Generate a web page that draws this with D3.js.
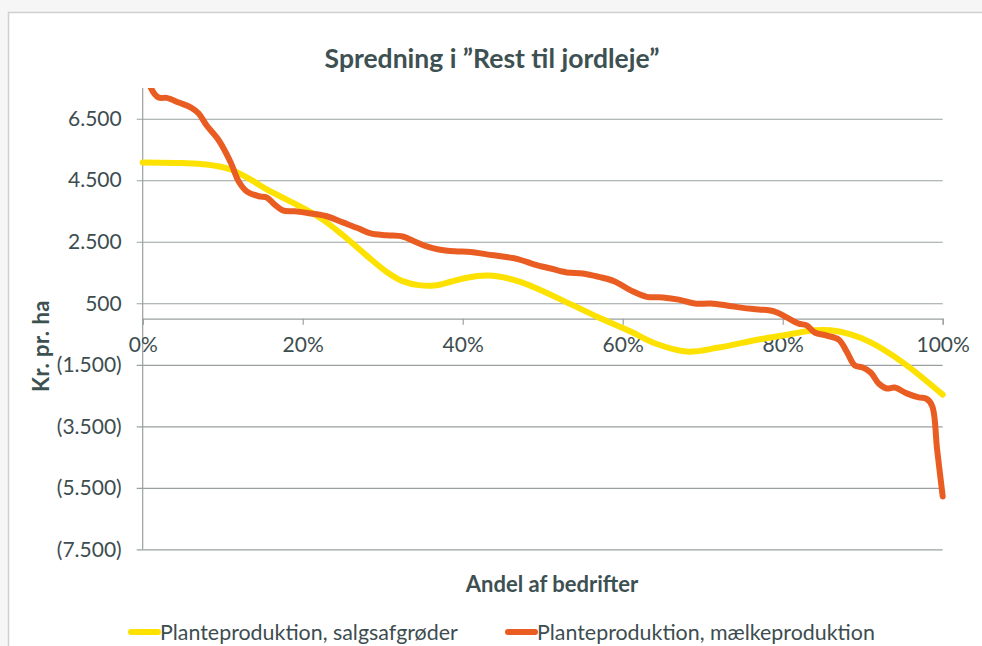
<!DOCTYPE html>
<html><head><meta charset="utf-8">
<script src="https://cdn.jsdelivr.net/npm/d3@7"></script>
<style>
html,body{margin:0;padding:0;background:#f6f6f6;}
svg{display:block;}
</style></head>
<body>
<svg id="chart" width="982" height="646"></svg>
<script>
const title = "Spredning i \u201dRest til jordleje\u201d";
const yTitle = "Kr. pr. ha";
const xTitle = "Andel af bedrifter";
const seriesNames = ["Planteproduktion, salgsafgrøder", "Planteproduktion, mælkeproduktion"];
const seriesColors = ["#fde100", "#ea5d22"];
const yTickValues = [-7500, -5500, -3500, -1500, 500, 2500, 4500, 6500];
const xTickValues = [0, 0.2, 0.4, 0.6, 0.8, 1.0];

const salgPct = [0, 0.05, 0.08, 0.11, 0.135, 0.155, 0.18, 0.20, 0.225, 0.25, 0.28, 0.305, 0.325, 0.345, 0.365, 0.385, 0.405, 0.43, 0.445, 0.47, 0.49, 0.53, 0.57, 0.61, 0.64, 0.68, 0.72, 0.77, 0.80, 0.84, 0.86, 0.885, 0.91, 0.95, 1.00];
const salgVal = [5080, 5060, 5010, 4850, 4520, 4200, 3870, 3600, 3220, 2720, 2050, 1520, 1220, 1090, 1080, 1200, 1330, 1400, 1370, 1210, 1010, 530, 40, -420, -800, -1070, -940, -680, -550, -380, -380, -510, -770, -1420, -2470];

const maelkPct = [0, 0.01, 0.02, 0.03, 0.045, 0.06, 0.07, 0.08, 0.095, 0.11, 0.12, 0.13, 0.145, 0.155, 0.165, 0.175, 0.19, 0.21, 0.23, 0.25, 0.27, 0.285, 0.305, 0.325, 0.34, 0.355, 0.37, 0.39, 0.41, 0.43, 0.45, 0.47, 0.49, 0.51, 0.53, 0.55, 0.57, 0.59, 0.61, 0.63, 0.65, 0.67, 0.69, 0.71, 0.73, 0.75, 0.77, 0.79, 0.805, 0.82, 0.83, 0.84, 0.855, 0.87, 0.88, 0.89, 0.90, 0.91, 0.92, 0.93, 0.94, 0.955, 0.97, 0.98, 0.987, 0.993, 1.00];
const maelkVal = [8800, 7520, 7190, 7180, 7030, 6870, 6670, 6280, 5800, 5080, 4460, 4140, 3980, 3940, 3710, 3520, 3490, 3420, 3330, 3130, 2930, 2770, 2710, 2670, 2510, 2350, 2250, 2190, 2170, 2090, 2020, 1930, 1760, 1630, 1500, 1470, 1360, 1210, 920, 710, 690, 620, 490, 490, 430, 350, 300, 230, 40, -160, -220, -450, -550, -680, -1070, -1520, -1590, -1750, -2110, -2270, -2240, -2430, -2560, -2610, -2850, -4250, -5780];

const svg = d3.select("#chart");
const fontFam = "Lato, 'Open Sans', sans-serif";
const textCol = "#3d4d4f";
const titleCol = "#3d5052";

// chart frame
svg.append("rect").attr("x", 8.5).attr("y", 12.5).attr("width", 990).attr("height", 660)
  .attr("fill", "#fff").attr("stroke", "#cfcfcf").attr("stroke-width", 1.5);

const pLeft = 142.7, pRight = 942.7, pTop = 88, pBottom = 549.3;
const x = d3.scaleLinear().domain([0, 1]).range([pLeft, pRight]);
const y = d3.scaleLinear().domain([-7500, 7500]).range([pBottom, pTop]);

const fmt = v => {
  const s = d3.format(",")(Math.abs(v)).replace(/,/g, ".");
  return v < 0 ? "(" + s + ")" : s;
};

// gridlines + y axis
const yAxis = d3.axisLeft(y).tickValues(yTickValues).tickFormat(fmt).tickSize(-(pRight - pLeft)).tickPadding(10);
const gy = svg.append("g").attr("transform", `translate(${pLeft},0)`).call(yAxis);
gy.select(".domain").remove();
gy.selectAll(".tick line").attr("stroke", "#9aa0a0").attr("stroke-width", 1.2).attr("x1", -6);
gy.selectAll(".tick text").attr("fill", textCol).style("font-family", fontFam).style("font-size", "21px").attr("x", -21);
svg.append("line").attr("x1", pLeft).attr("x2", pLeft).attr("y1", pTop).attr("y2", pBottom)
  .attr("stroke", "#9aa0a0").attr("stroke-width", 1.2);

// x axis at zero
const xAxis = d3.axisBottom(x).tickValues(xTickValues).tickFormat(d3.format(".0%")).tickSize(6).tickPadding(12);
const gx = svg.append("g").attr("transform", `translate(0,${y(0)})`).call(xAxis);
gx.select(".domain").attr("stroke", "#9aa0a0").attr("stroke-width", 1.2);
gx.selectAll(".tick line").attr("stroke", "#9aa0a0").attr("stroke-width", 1.2);
gx.selectAll(".tick text").attr("fill", textCol).style("font-family", fontFam).style("font-size", "21px");

// lines
svg.append("clipPath").attr("id", "plotclip").append("rect")
  .attr("x", pLeft - 5).attr("y", pTop).attr("width", pRight - pLeft + 10).attr("height", pBottom - pTop + 10);
const line = d3.line().x(d => x(d[0])).y(d => y(d[1])).curve(d3.curveCatmullRom.alpha(0.5));
const series = [d3.zip(salgPct, salgVal), d3.zip(maelkPct, maelkVal)];
series.forEach((s, i) => {
  svg.append("path").attr("d", line(s)).attr("fill", "none").attr("stroke", seriesColors[i])
    .attr("stroke-width", 6).attr("stroke-linejoin", "round").attr("stroke-linecap", "round")
    .attr("clip-path", "url(#plotclip)");
});

// titles
svg.append("text").attr("x", 492).attr("y", 68).attr("text-anchor", "middle")
  .attr("fill", titleCol).style("font-family", fontFam).style("font-weight", "bold").style("font-size", "26.5px").text(title);
svg.append("text").attr("transform", "translate(49,346) rotate(-90)").attr("text-anchor", "middle")
  .attr("fill", titleCol).style("font-family", fontFam).style("font-weight", "bold").style("font-size", "22px")
  .style("letter-spacing", "0.5px").text(yTitle);
svg.append("text").attr("x", 552).attr("y", 592).attr("text-anchor", "middle")
  .attr("fill", titleCol).style("font-family", fontFam).style("font-weight", "bold").style("font-size", "22px").text(xTitle);

// legend
const legX = [128, 505];
seriesNames.forEach((n, i) => {
  svg.append("line").attr("x1", legX[i] + 3).attr("x2", legX[i] + 30).attr("y1", 632).attr("y2", 632)
    .attr("stroke", seriesColors[i]).attr("stroke-width", 6).attr("stroke-linecap", "round");
  svg.append("text").attr("x", legX[i] + 32).attr("y", 640).attr("fill", textCol)
    .style("font-family", fontFam).style("font-size", "21.4px").text(n);
});
</script>
</body></html>
